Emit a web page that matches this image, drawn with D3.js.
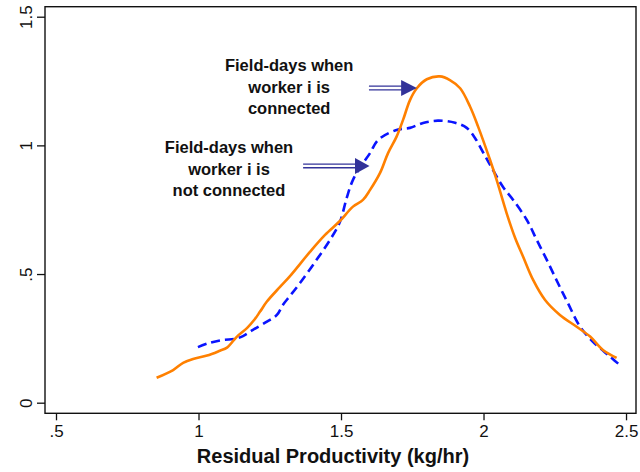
<!DOCTYPE html>
<html>
<head>
<meta charset="utf-8">
<script src="https://cdn.jsdelivr.net/npm/d3@7"></script>
<style>
  html, body { margin: 0; padding: 0; background: #fff; }
  svg { display: block; font-family: "Liberation Sans", Arial, Helvetica, sans-serif; }
</style>
</head>
<body>
<svg id="chart" width="640" height="472"></svg>
<script>
// ---- data ----
const connectedX = [0.853,0.911,0.946,0.981,1.030,1.075,1.100,1.135,1.170,1.198,1.216,1.240,1.286,1.321,1.391,1.444,1.496,1.542,1.577,1.602,1.637,1.665,1.695,1.718,1.742,1.766,1.801,1.847,1.882,1.918,1.953,1.981,2.023,2.046,2.081,2.111,2.139,2.174,2.216,2.268,2.327,2.374,2.419,2.467];
const connectedY = [0.097,0.127,0.155,0.170,0.183,0.202,0.214,0.257,0.290,0.325,0.354,0.393,0.450,0.492,0.586,0.652,0.706,0.762,0.788,0.827,0.893,0.970,1.034,1.100,1.176,1.222,1.257,1.268,1.254,1.222,1.150,1.073,0.943,0.866,0.737,0.640,0.567,0.477,0.399,0.341,0.295,0.257,0.205,0.174];
const notConnectedX = [0.998,1.040,1.086,1.128,1.156,1.191,1.240,1.275,1.296,1.321,1.356,1.409,1.461,1.496,1.520,1.542,1.573,1.602,1.630,1.695,1.742,1.788,1.840,1.900,1.941,1.970,1.998,2.023,2.068,2.104,2.152,2.187,2.222,2.261,2.296,2.339,2.384,2.444,2.485];
const notConnectedY = [0.216,0.233,0.244,0.248,0.259,0.283,0.315,0.341,0.380,0.415,0.465,0.547,0.632,0.702,0.796,0.866,0.924,0.970,1.021,1.060,1.068,1.087,1.096,1.088,1.068,1.029,0.974,0.924,0.839,0.788,0.710,0.632,0.555,0.465,0.387,0.295,0.237,0.179,0.140];
const xTicks = [0.5, 1, 1.5, 2, 2.5];
const xTickLabels = [".5", "1", "1.5", "2", "2.5"];
const yTicks = [0, 0.5, 1, 1.5];
const yTickLabels = ["0", ".5", "1", "1.5"];
const xTitle = "Residual Productivity (kg/hr)";
const label1 = ["Field-days when", "worker i is", "connected"];
const label2 = ["Field-days when", "worker i is", "not connected"];

// ---- layout ----
const svg = d3.select("#chart");
const mLeft = 45, mRight = 636, mTop = 6.7, mBottom = 413.3;
const x = d3.scaleLinear().domain([0.4614, 2.535]).range([mLeft, mRight]);
const y = d3.scaleLinear().domain([-0.0412, 1.5389]).range([mBottom, mTop]);

// frame
svg.append("rect")
  .attr("x", mLeft).attr("y", mTop)
  .attr("width", mRight - mLeft).attr("height", mBottom - mTop)
  .attr("fill", "none").attr("stroke", "#111").attr("stroke-width", 1.4);

// axes
const xAxis = d3.axisBottom(x).tickValues(xTicks)
  .tickFormat((d, i) => xTickLabels[i]).tickSize(7).tickPadding(5);
const gx = svg.append("g").attr("transform", `translate(0,${mBottom})`).call(xAxis);
gx.select(".domain").remove();
gx.selectAll(".tick line").attr("stroke", "#111").attr("stroke-width", 1.3);
gx.selectAll(".tick text").attr("font-size", 17).attr("fill", "#111")
  .attr("font-family", "Liberation Sans, Arial, sans-serif");

const yAxis = d3.axisLeft(y).tickValues(yTicks)
  .tickFormat((d, i) => yTickLabels[i]).tickSize(8).tickPadding(5);
const gy = svg.append("g").attr("transform", `translate(${mLeft},0)`).call(yAxis);
gy.select(".domain").remove();
gy.selectAll(".tick line").attr("stroke", "#111").attr("stroke-width", 1.3);
gy.selectAll(".tick text").remove();
gy.selectAll(".tick").append("text")
  .attr("transform", "translate(-13.5,0) rotate(-90)")
  .attr("text-anchor", "middle")
  .attr("font-size", 17).attr("fill", "#111")
  .attr("font-family", "Liberation Sans, Arial, sans-serif")
  .text((d, i) => yTickLabels[i]);

// x title
svg.append("text")
  .attr("x", 333).attr("y", 463)
  .attr("text-anchor", "middle")
  .attr("font-size", 20).attr("font-weight", "bold").attr("fill", "#111")
  .text(xTitle);

// lines
const line = d3.line()
  .x(d => x(d[0])).y(d => y(d[1]))
  .curve(d3.curveCatmullRom.alpha(0.5));
const connected = connectedX.map((v, i) => [v, connectedY[i]]);
const notConnected = notConnectedX.map((v, i) => [v, notConnectedY[i]]);

svg.append("path").datum(notConnected)
  .attr("d", line).attr("fill", "none")
  .attr("stroke", "#0a14ff").attr("stroke-width", 2.6)
  .attr("stroke-dasharray", "9,5");
svg.append("path").datum(connected)
  .attr("d", line).attr("fill", "none")
  .attr("stroke", "#ff8000").attr("stroke-width", 2.6);

// annotations
const arrowColor = "#333399";
function arrow(x0, x1, xt, yv) {
  const yc = y(yv);
  const g = svg.append("g");
  [-1.8, 1.8].forEach(off => {
    g.append("line")
      .attr("x1", x(x0)).attr("x2", x(x1) + 2)
      .attr("y1", yc + off).attr("y2", yc + off)
      .attr("stroke", arrowColor).attr("stroke-width", 1.3);
  });
  g.append("polygon")
    .attr("points", `${x(x1)},${yc - 8} ${x(xt)},${yc} ${x(x1)},${yc + 8}`)
    .attr("fill", arrowColor);
}
arrow(1.598, 1.711, 1.766, 1.223);
arrow(1.367, 1.549, 1.600, 0.920);

function label(lines, xv, yv) {
  const t = svg.append("text")
    .attr("text-anchor", "middle")
    .attr("font-size", 16.5).attr("font-weight", "bold").attr("fill", "#111");
  lines.forEach((s, i) => {
    t.append("tspan").attr("x", x(xv)).attr("y", y(yv) + i * 21.5).text(s);
  });
}
label(label1, 1.318, 1.289);
label(label2, 1.107, 0.969);
</script>
</body>
</html>
